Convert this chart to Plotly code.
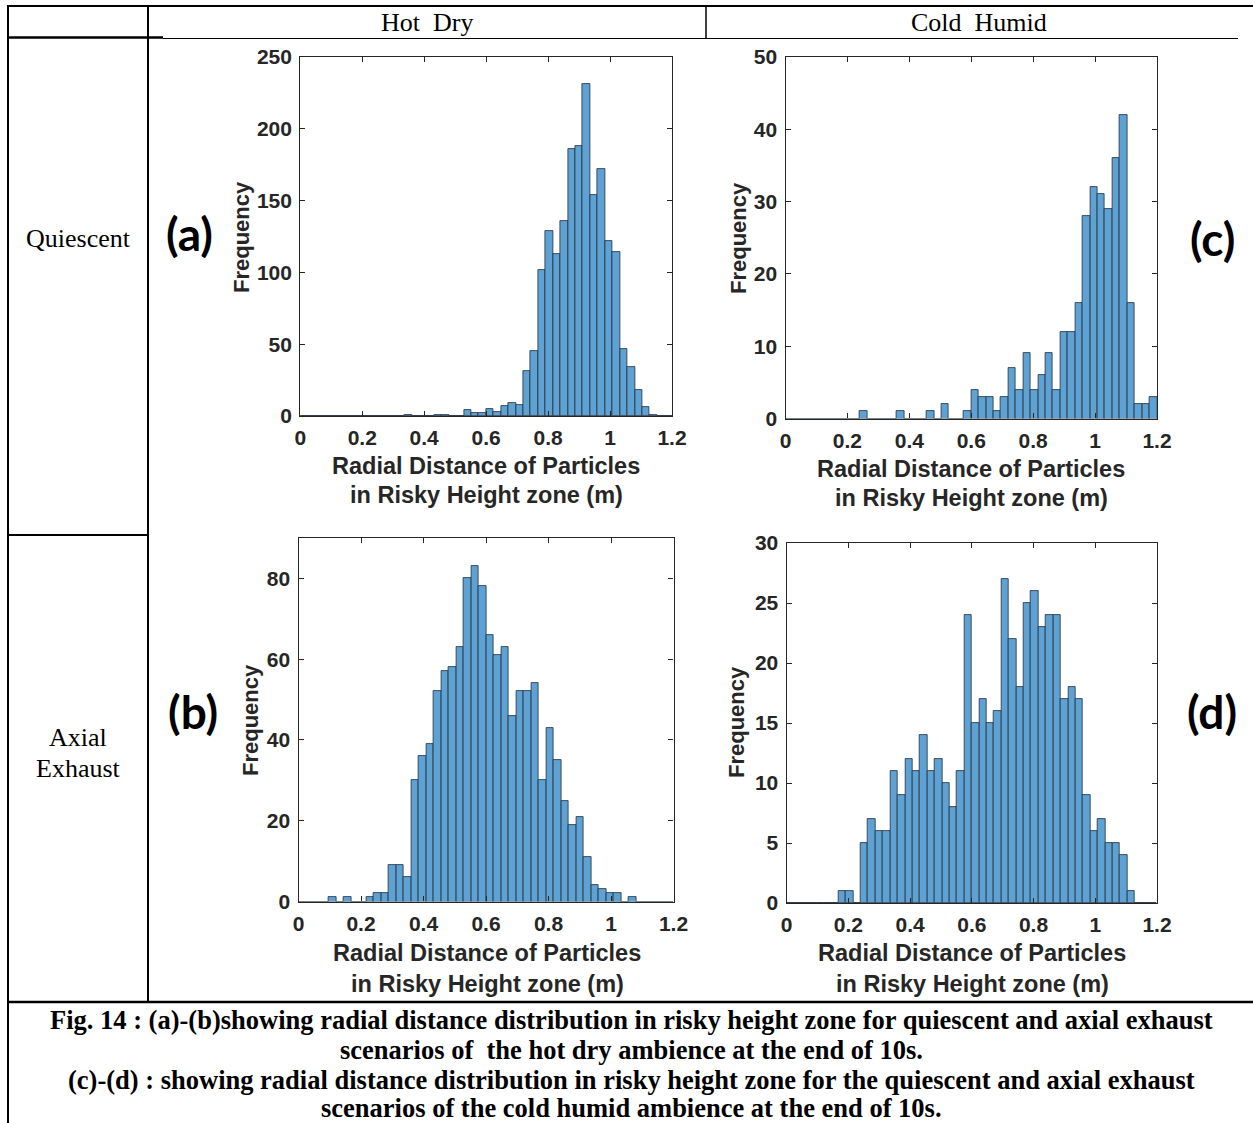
import plotly.graph_objects as go

W, H = 1253, 1123

# ---- data (histogram counts per bin, bins of width 0.024 starting at 0) ----
bin_start = 0.0
bin_width = 0.024

counts_a = [0, 0, 0, 0, 0, 0, 0, 0, 0, 0,
            0, 0, 0, 0, 1, 0, 0, 0, 1, 1,
            0, 0, 4, 2, 2, 5, 3, 7, 9, 8,
            31, 45, 102, 129, 113, 136, 186, 188, 231, 154,
            172, 122, 114, 47, 34, 18, 6, 1, 0, 0]

counts_c = [0, 0, 0, 0, 0, 0, 0, 0, 0, 0,
            1, 0, 0, 0, 0, 1, 0, 0, 0, 1,
            0, 2, 0, 0, 1, 4, 3, 3, 1, 3,
            7, 4, 9, 4, 6, 9, 4, 12, 12, 16,
            28, 32, 31, 29, 36, 42, 16, 2, 2, 3]

counts_b = [0, 0, 0, 0, 1, 0, 1, 0, 0, 1,
            2, 2, 9, 9, 6, 30, 36, 39, 52, 57,
            58, 63, 80, 83, 78, 66, 61, 63, 46, 52,
            52, 54, 30, 43, 35, 25, 19, 21, 11, 4,
            3, 2, 2, 0, 1, 0, 0, 0, 0, 0]

counts_d = [0, 0, 0, 0, 0, 0, 0, 1, 1, 0,
            5, 7, 6, 6, 11, 9, 12, 11, 14, 11,
            12, 10, 8, 11, 24, 15, 17, 15, 16, 27,
            22, 18, 25, 26, 23, 24, 24, 17, 18, 17,
            9, 6, 7, 5, 5, 4, 1, 0, 0, 0]

x_tickvals = [0, 0.2, 0.4, 0.6, 0.8, 1.0, 1.2]
x_ticktext = ["0", "0.2", "0.4", "0.6", "0.8", "1", "1.2"]
y_ranges = {"a": 250, "c": 50, "b": 90, "d": 30}
y_dticks = {"a": 50, "c": 10, "b": 20, "d": 5}

col_titles = ["Hot\u00a0 Dry", "Cold\u00a0 Humid"]
row_title_lines = [["Quiescent"], ["Axial", "Exhaust"]]
panel_letters = ["(a)", "(c)", "(b)", "(d)"]
x_title_lines = ["Radial Distance of Particles", "in Risky Height zone (m)"]
y_title = "Frequency"
caption_lines = [
    "Fig. 14 : (a)-(b)showing radial distance distribution in risky height zone for quiescent and axial exhaust",
    "scenarios of\u00a0 the hot dry ambience at the end of 10s.",
    "(c)-(d) : showing radial distance distribution in risky height zone for the quiescent and axial exhaust",
    "scenarios of the cold humid ambience at the end of 10s.",
]

# ---- helpers ----
def px(x):
    return x / W

def py(y):
    return 1 - y / H

centers = [bin_start + (i + 0.5) * bin_width for i in range(50)]

BAR_FILL = "rgb(94,162,212)"
BAR_EDGE = "rgb(35,45,60)"
AX_COL = "#262626"
SANS = "Liberation Sans, Arial, sans-serif"
SERIF = "Liberation Serif, Times New Roman, serif"

# panel geometry in pixels: (x_left, x_right, y_top, y_bottom)
panels = {
    "a": dict(counts=counts_a, box=(300.3, 672, 57, 416), ax=""),
    "c": dict(counts=counts_c, box=(785.5, 1157, 57, 418.5), ax="2"),
    "b": dict(counts=counts_b, box=(298.5, 673.5, 538, 901.5), ax="3"),
    "d": dict(counts=counts_d, box=(786.6, 1157, 543, 903), ax="4"),
}

fig = go.Figure()
layout = dict(
    width=W, height=H,
    margin=dict(l=0, r=0, t=0, b=0, pad=0, autoexpand=False),
    paper_bgcolor="white", plot_bgcolor="white",
    showlegend=False, bargap=0,
)

for key, p in panels.items():
    ax = p["ax"]
    fig.add_trace(go.Bar(
        x=centers, y=p["counts"], width=bin_width,
        marker=dict(color=BAR_FILL, line=dict(color=BAR_EDGE, width=0.8)),
        xaxis="x" + ax, yaxis="y" + ax, hoverinfo="x+y",
    ))
    x0, x1, y0, y1 = p["box"]
    common = dict(
        showline=True, linecolor=AX_COL, linewidth=1.3, mirror="ticks",
        ticks="inside", ticklen=5, tickwidth=1.2, tickcolor=AX_COL,
        showgrid=False, zeroline=False, automargin=False,
        tickfont=dict(family=SANS, size=21, color=AX_COL, weight="bold"),
    )
    layout["xaxis" + ax] = dict(
        common, domain=[px(x0), px(x1)], range=[0, 1.2],
        tickvals=x_tickvals, ticktext=x_ticktext,
        anchor="y" + ax, ticklabelstandoff=3,
    )
    layout["yaxis" + ax] = dict(
        common, domain=[py(y1), py(y0)], range=[0, y_ranges[key]],
        dtick=y_dticks[key], tick0=0, anchor="x" + ax, ticklabelstandoff=3,
    )

fig.update_layout(**layout)

ann = []
TITLE_FONT = dict(family=SANS, size=23.5, color=AX_COL, weight="bold")

def text_at(t, x, y, font, **kw):
    d = dict(text=t, x=px(x), y=py(y), xref="paper", yref="paper", showarrow=False,
             font=font, xanchor="center", yanchor="middle")
    d.update(kw)
    ann.append(d)

# x-axis titles (two lines each) and y-axis titles
xt_pos = {"a": (486, 466, 495), "c": (971, 469, 498), "b": (487, 953, 984), "d": (972, 953, 984)}
yt_pos = {"a": (241, 237), "c": (738, 238), "b": (250, 720), "d": (737, 722)}
for key in panels:
    x, ya, yb = xt_pos[key]
    text_at(x_title_lines[0], x, ya, TITLE_FONT)
    text_at(x_title_lines[1], x, yb, TITLE_FONT)
    x, y = yt_pos[key]
    text_at(y_title, x, y, dict(family=SANS, size=22, color=AX_COL, weight="bold"), textangle=-90)

# panel letters
letter_pos = [(190, 234), (1212, 238), (193, 711), (1212, 711)]
for t, (x, y) in zip(panel_letters, letter_pos):
    text_at(t, x, y, dict(family="Lato, Open Sans, sans-serif", size=46, color="black", weight="bold"))

HEAD_FONT = dict(family=SERIF, size=26, color="black")
# column headers
for t, x in zip(col_titles, [427, 979]):
    text_at(t, x, 22, HEAD_FONT)
# row headers
row_line_y = [[238], [737, 768]]
for lines, ys in zip(row_title_lines, row_line_y):
    for t, y in zip(lines, ys):
        text_at(t, 78, y, HEAD_FONT)
# caption
cap_y = [1020, 1050, 1080, 1108]
for t, y in zip(caption_lines, cap_y):
    text_at(t, 631, y, dict(family=SERIF, size=26.5, color="black", weight="bold"))

fig.update_layout(annotations=ann)

# table lines
def hline(y, xa, xb, w):
    return dict(type="line", xref="paper", yref="paper", x0=px(xa), x1=px(xb),
                y0=py(y), y1=py(y), line=dict(color="black", width=w))

def vline(x, ya, yb, w):
    return dict(type="line", xref="paper", yref="paper", x0=px(x), x1=px(x),
                y0=py(ya), y1=py(yb), line=dict(color="black", width=w))

shapes = [
    hline(6, 7, 1253, 2),
    vline(8, 5, 1123, 2),
    vline(148, 5, 1002, 2),
    vline(706, 5, 38, 1.5),
    hline(37.5, 7, 163, 2.5),
    hline(38.5, 163, 1238, 1),
    hline(535, 7, 148, 2),
    hline(1002, 7, 1253, 2.5),
]
fig.update_layout(shapes=shapes)

fig.write_html("out.html")
